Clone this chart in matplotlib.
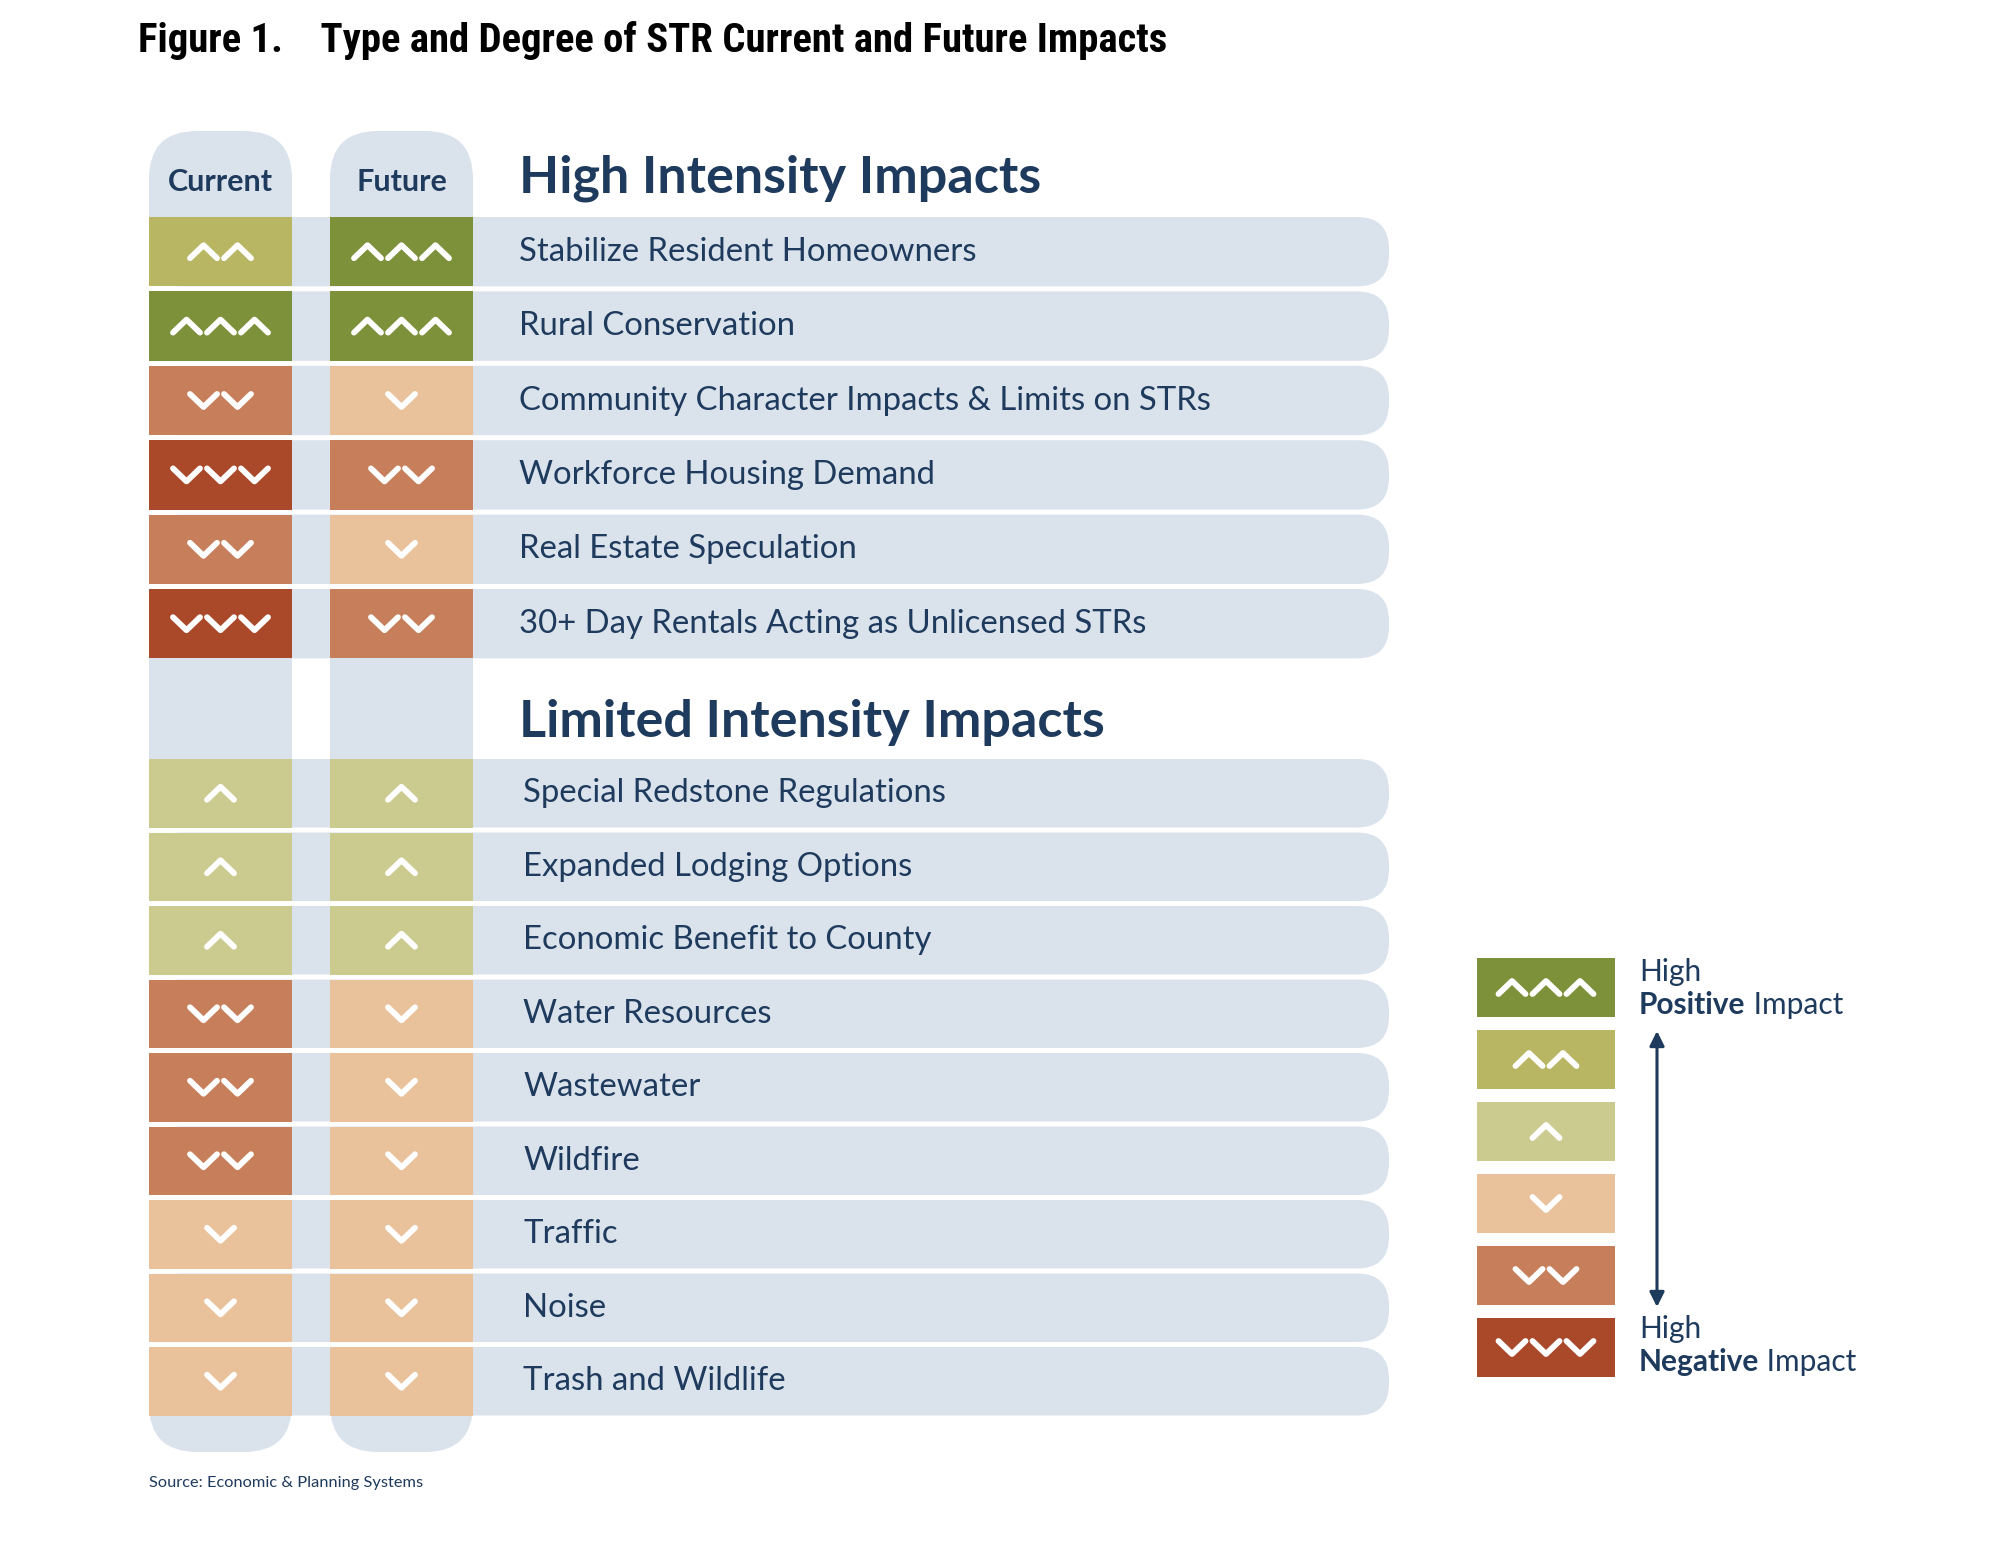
import matplotlib
matplotlib.use("Agg")
import matplotlib.pyplot as plt
from matplotlib.patches import FancyBboxPatch, Rectangle

# impact levels: +3 high positive ... -3 high negative
high_labels = ["Stabilize Resident Homeowners", "Rural Conservation",
               "Community Character Impacts & Limits on STRs",
               "Workforce Housing Demand", "Real Estate Speculation",
               "30+ Day Rentals Acting as Unlicensed STRs"]
high_current = [2, 3, -2, -3, -2, -3]
high_future = [3, 3, -1, -2, -1, -2]

limited_labels = ["Special Redstone Regulations", "Expanded Lodging Options",
                  "Economic Benefit to County", "Water Resources", "Wastewater",
                  "Wildfire", "Traffic", "Noise", "Trash and Wildlife"]
limited_current = [1, 1, 1, -2, -2, -2, -1, -1, -1]
limited_future = [1, 1, 1, -1, -1, -1, -1, -1, -1]

legend_levels = [3, 2, 1, -1, -2, -3]

level_colors = {3: "#7d913a", 2: "#b8b563", 1: "#cccb8f",
                -1: "#e9c29c", -2: "#c77f5b", -3: "#aa482a"}
navy = "#1e3a5c"
bar_bg = "#dae2ec"

fig = plt.figure(figsize=(20, 15.47), dpi=100)
ax = fig.add_axes([0, 0, 1, 1])
ax.set_xlim(0, 2000)
ax.set_ylim(1547, 0)
ax.axis("off")

col_x = [149, 330]
col_w = 143
bar_right = 1389


def chevrons(cx, cy, level, w=27, h=13, step=34):
    n = abs(level)
    for i in range(n):
        x = cx + (i - (n - 1) / 2) * step
        xs = [x - w / 2, x, x + w / 2]
        if level > 0:
            ys = [cy + h / 2, cy - h / 2, cy + h / 2]
        else:
            ys = [cy - h / 2, cy + h / 2, cy - h / 2]
        ax.plot(xs, ys, color="white", lw=4.2, solid_capstyle="round",
                solid_joinstyle="round", zorder=5)


# column pills
for x0 in col_x:
    ax.add_patch(FancyBboxPatch((x0, 131), col_w, 1452 - 131,
                                boxstyle="round,pad=0,rounding_size=48",
                                fc=bar_bg, ec="none", zorder=1))
ax.text(col_x[0] + col_w / 2, 182, "Current", ha="center", va="center",
        fontsize=22, fontweight="bold", family="Lato", color=navy)
ax.text(col_x[1] + col_w / 2, 182, "Future", ha="center", va="center",
        fontsize=22, fontweight="bold", family="Lato", color=navy)


def draw_rows(labels, cur, fut, top, pitch, label_x):
    hgt = pitch - 5
    for i, (lab, c, f) in enumerate(zip(labels, cur, fut)):
        y0 = top + i * pitch
        ax.add_patch(FancyBboxPatch((col_x[0], y0), bar_right - col_x[0], hgt,
                                    boxstyle="round,pad=0,rounding_size=32",
                                    fc=bar_bg, ec="none", zorder=2))
        for x0, lvl in zip(col_x, (c, f)):
            ax.add_patch(Rectangle((x0, y0), col_w, hgt, fc=level_colors[lvl],
                                   ec="none", zorder=3))
            chevrons(x0 + col_w / 2, y0 + hgt / 2, lvl)
        if i < len(labels) - 1:
            ax.add_patch(Rectangle((col_x[0], y0 + hgt), col_x[1] + col_w - col_x[0], 5,
                                   fc="white", ec="none", zorder=1.5))
        ax.text(label_x, y0 + hgt / 2, lab, ha="left", va="center",
                fontsize=23.7, family="Lato", color=navy, zorder=6)


draw_rows(high_labels, high_current, high_future, 217, 74.4, 519)
draw_rows(limited_labels, limited_current, limited_future, 759, 73.5, 523)

ax.text(519, 178, "High Intensity Impacts", ha="left", va="center",
        fontsize=37.5, fontweight="bold", family="Lato", color=navy)
ax.text(519, 722, "Limited Intensity Impacts", ha="left", va="center",
        fontsize=37.5, fontweight="bold", family="Lato", color=navy)

# legend
for i, lvl in enumerate(legend_levels):
    y0 = 958 + i * 72
    ax.add_patch(Rectangle((1477, y0), 138, 59, fc=level_colors[lvl], ec="none", zorder=3))
    chevrons(1477 + 69, y0 + 29.5, lvl)

ax.annotate("", xy=(1657, 1031), xytext=(1657, 1307),
            arrowprops=dict(arrowstyle="<|-|>", color=navy, lw=2.2,
                            mutation_scale=22, shrinkA=0, shrinkB=0))

for y_high, word in ((972, "Positive"), (1329, "Negative")):
    ax.text(1639, y_high, "High", ha="left", va="center", fontsize=21.5,
            family="Lato", color=navy)
    t = ax.text(1639, y_high + 33, word, ha="left", va="center", fontsize=21.5,
                family="Lato", fontweight="bold", color=navy)
    ax.annotate(" Impact", xy=(1, 0), xycoords=t, ha="left", va="bottom",
                fontsize=21.5, family="Lato", color=navy)

ax.text(138, 40, "Figure 1.    Type and Degree of STR Current and Future Impacts",
        ha="left", va="center", fontsize=29.3, fontweight="bold",
        family=["Roboto Condensed", "Liberation Sans Narrow", "Roboto", "DejaVu Sans"],
        color="black")

ax.text(149, 1483, "Source: Economic & Planning Systems", ha="left", va="center",
        fontsize=11.8, family="Lato", color=navy)

fig.savefig("out.png", dpi=100)
